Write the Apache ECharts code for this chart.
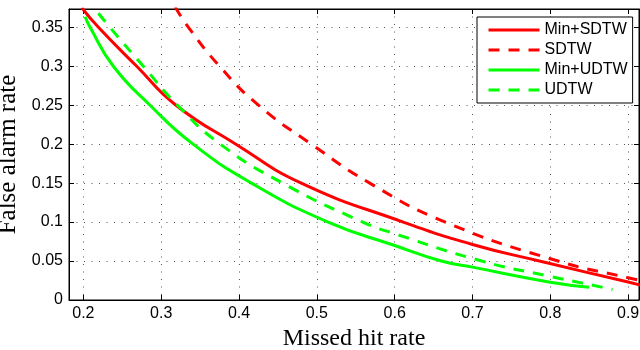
<!DOCTYPE html>
<html>
<head>
<meta charset="utf-8">
<script src="https://cdn.jsdelivr.net/npm/echarts@6/dist/echarts.min.js"></script>
<style>html,body{margin:0;padding:0;background:#fff}#c{width:640px;height:350px}</style>
</head>
<body>
<div id="c"></div>
<script>
// Data: [missed hit rate, false alarm rate]
const minSdtw = [[0.198,0.375],[0.2193,0.35],[0.2685,0.30],[0.319,0.25],[0.396,0.20],[0.48,0.15],[0.611,0.10],[0.70,0.0713],[0.786,0.05],[0.90,0.023],[0.916,0.019]];
const sdtw = [[0.318,0.376],[0.335,0.35],[0.375,0.30],[0.425,0.25],[0.493,0.20],[0.568,0.15],[0.665,0.10],[0.81,0.05],[0.90,0.0285],[0.916,0.025]];
const minUdtw = [[0.2022,0.3635],[0.2086,0.35],[0.2385,0.30],[0.2856,0.25],[0.341,0.20],[0.416,0.15],[0.5145,0.10],[0.60,0.07],[0.66,0.05],[0.70,0.0422],[0.80,0.0229],[0.85,0.0165]];
const udtw = [[0.2193,0.368],[0.234,0.35],[0.277,0.30],[0.321,0.25],[0.376,0.20],[0.456,0.15],[0.559,0.10],[0.60,0.0851],[0.712,0.05],[0.80,0.0302],[0.84,0.022],[0.88,0.0135]];
const seriesNames = ['Min+SDTW','SDTW','Min+UDTW','UDTW'];
const xTicks = [0.2,0.3,0.4,0.5,0.6,0.7,0.8,0.9];
const yTicks = [0,0.05,0.1,0.15,0.2,0.25,0.3,0.35];

const isTick = (arr, v) => arr.some(t => Math.abs(t - v) < 1e-6);
const sans = 'Liberation Sans, Arial, Helvetica, sans-serif';
const serif = 'Liberation Serif, Times New Roman, serif';
const grid = {left:69, right:1, top:9, bottom:50, containLabel:false, outerBoundsMode:'none',
  show:true, borderColor:'#000', borderWidth:1, backgroundColor:'#fff'};
const gridLine = {show:true, lineStyle:{color:'#555', width:1, type:[1,6.5]}};

const xBase = {
  type:'value', min:0.1815, max:0.914, splitNumber:7,
  axisLine:{show:true, onZero:false, lineStyle:{color:'#000', width:1}},
  axisTick:{show:true, inside:true, length:5, lineStyle:{color:'#000'}},
};
const yBase = {
  type:'value', min:0, max:0.3735, interval:0.05,
  axisLine:{show:true, onZero:false, lineStyle:{color:'#000', width:1}},
  axisTick:{show:true, inside:true, length:5, lineStyle:{color:'#000'}},
};

function mkSeries(name, data, color, dash) {
  return {
    name: name, type:'line', data: data,
    symbol:'none', smooth:0.5, clip:true,
    lineStyle:{color:color, width:3, type:dash},
    itemStyle:{color:color}
  };
}

const chart = echarts.init(document.getElementById('c'), null, {renderer:'canvas'});
chart.setOption({
  animation:false,
  backgroundColor:'#fff',
  grid: grid,
  legend:{
    data: seriesNames,
    orient:'vertical', left:477, top:17,
    padding:[5,5,5,10], itemGap:4, itemWidth:51, itemHeight:14,
    backgroundColor:'#fff', borderColor:'#000', borderWidth:1, borderRadius:0,
    itemStyle:{opacity:0},
    lineStyle:{width:3},
    textStyle:{fontFamily:sans, fontSize:16, color:'#000'}
  },
  xAxis:[
    Object.assign({}, xBase, {
      position:'bottom',
      name:'Missed hit rate', nameLocation:'middle', nameGap:24,
      nameTextStyle:{fontFamily:serif, fontSize:24, color:'#000'},
      axisLabel:{show:true, margin:6, fontFamily:sans, fontSize:16, color:'#000',
        formatter: v => isTick(xTicks, v) ? String(+v.toFixed(2)) : ''},
      splitLine: gridLine
    }),
    Object.assign({}, xBase, {position:'top', axisLabel:{show:false}, splitLine:{show:false}})
  ],
  yAxis:[
    Object.assign({}, yBase, {
      position:'left',
      name:'False alarm rate', nameLocation:'middle', nameGap:36,
      nameTextStyle:{fontFamily:serif, fontSize:25, color:'#000'},
      axisLabel:{show:true, margin:6, fontFamily:sans, fontSize:16, color:'#000',
        formatter: v => isTick(yTicks, v) ? String(+v.toFixed(2)) : ''},
      splitLine: gridLine
    }),
    Object.assign({}, yBase, {position:'right', axisLabel:{show:false}, splitLine:{show:false}})
  ],
  series:[
    mkSeries(seriesNames[0], minSdtw, '#ff0000', 'solid'),
    mkSeries(seriesNames[1], sdtw, '#ff0000', [11,9]),
    mkSeries(seriesNames[2], minUdtw, '#00ff00', 'solid'),
    mkSeries(seriesNames[3], udtw, '#00ff00', [11,9])
  ]
});
</script>
</body>
</html>
